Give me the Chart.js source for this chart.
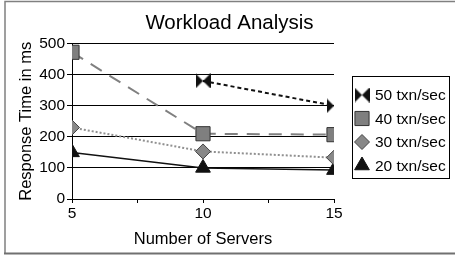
<!DOCTYPE html>
<html>
<head>
<meta charset="utf-8">
<script src="https://cdn.jsdelivr.net/npm/chart.js@4/dist/chart.umd.min.js"></script>
<style>
  html, body { margin: 0; padding: 0; background: #fff; }
  #wrap { width: 455px; height: 255px; }
</style>
</head>
<body>
<div id="wrap"><canvas id="chart"></canvas></div>
<script>
const servers = [5, 10, 15];
const txn50 = [null, 380, 300];
const txn40 = [472, 210, 207];
const txn30 = [230, 153, 133];
const txn20 = [150, 100, 93];
const seriesLabels = ['50 txn/sec', '40 txn/sec', '30 txn/sec', '20 txn/sec'];

const FONT = "'Liberation Sans', Arial, sans-serif";

// bowtie marker (two triangles pointing inward)
function makeBowtie(size, color) {
    const c = document.createElement('canvas');
    c.width = size;
    c.height = size;
    const g = c.getContext('2d');
    g.fillStyle = color;
    g.beginPath();
    g.moveTo(0, 0);
    g.lineTo(size / 2, size / 2);
    g.lineTo(0, size);
    g.closePath();
    g.moveTo(size, 0);
    g.lineTo(size / 2, size / 2);
    g.lineTo(size, size);
    g.closePath();
    g.fill();
    return c;
}
const bowtie = makeBowtie(15, '#111');

function toPoints(values) {
    return values.map((v, i) => ({ x: servers[i], y: v }));
}

const datasets = [
    {
        label: seriesLabels[0],
        data: toPoints(txn50),
        borderColor: '#111',
        borderWidth: 2,
        borderDash: [4, 3],
        pointStyle: bowtie,
        pointRadius: 8,
        pointBackgroundColor: '#111',
        pointBorderColor: '#111'
    },
    {
        label: seriesLabels[1],
        data: toPoints(txn40),
        borderColor: '#808080',
        borderWidth: 2,
        borderDash: [13, 9],
        pointStyle: 'rect',
        pointRadius: 10,
        pointBackgroundColor: '#7f7f7f',
        pointBorderColor: '#333',
        pointBorderWidth: 1
    },
    {
        label: seriesLabels[2],
        data: toPoints(txn30),
        borderColor: '#909090',
        borderWidth: 2,
        borderDash: [2, 2],
        pointStyle: 'rectRot',
        pointRadius: 7.5,
        pointBackgroundColor: '#888',
        pointBorderColor: '#444',
        pointBorderWidth: 1
    },
    {
        label: seriesLabels[3],
        data: toPoints(txn20),
        borderColor: '#111',
        borderWidth: 1.5,
        pointStyle: 'triangle',
        pointRadius: 8.5,
        pointBackgroundColor: '#111',
        pointBorderColor: '#111',
        pointBorderWidth: 1
    }
];

const framePlugin = {
    id: 'frameAndLegend',
    afterDraw(chart) {
        const ctx = chart.ctx;
        ctx.save();
        // outer frame
        ctx.strokeStyle = '#808080';
        ctx.lineWidth = 1.5;
        ctx.beginPath();
        ctx.moveTo(5, 253);
        ctx.lineTo(5, 1.5);
        ctx.lineTo(456, 1.5);
        ctx.stroke();
        ctx.strokeStyle = '#707070';
        ctx.lineWidth = 2;
        ctx.beginPath();
        ctx.moveTo(4, 253.5);
        ctx.lineTo(456, 253.5);
        ctx.stroke();

        // legend box
        ctx.strokeStyle = '#000';
        ctx.lineWidth = 1;
        ctx.strokeRect(352.5, 76.5, 97, 102);

        const rows = [95, 118.5, 142, 165.5];
        ctx.font = '15.5px ' + FONT;
        ctx.textBaseline = 'middle';
        ctx.textAlign = 'left';
        chart.data.datasets.forEach((ds, i) => {
            ctx.fillStyle = ds.pointBackgroundColor;
            ctx.strokeStyle = ds.pointBorderColor;
            ctx.lineWidth = ds.pointBorderWidth || 1;
            ctx.setLineDash([]);
            Chart.helpers.drawPoint(ctx, {
                pointStyle: ds.pointStyle,
                radius: ds.pointRadius,
                rotation: 0,
                borderWidth: ds.pointBorderWidth || 0
            }, 362, rows[i]);
            ctx.fillStyle = '#000';
            ctx.fillText(ds.label, 375, rows[i] + 1);
        });
        ctx.restore();
    }
};

new Chart(document.getElementById('chart'), {
    type: 'line',
    data: { datasets },
    options: {
        responsive: true,
        maintainAspectRatio: false,
        animation: false,
        layout: { padding: { top: 4, left: 4, right: 0, bottom: 5 } },
        plugins: {
            legend: { display: false },
            tooltip: { enabled: false },
            title: {
                display: true,
                text: 'Workload Analysis',
                color: '#000',
                font: { family: FONT, size: 20.5, weight: 'normal' },
                padding: { top: 7, bottom: 8 }
            }
        },
        scales: {
            x: {
                type: 'linear',
                min: 5,
                max: 15,
                afterFit(scale) { scale.height = 51; },
                ticks: {
                    stepSize: 2.5,
                    autoSkip: false,
                    maxRotation: 0,
                    padding: 1,
                    color: '#000',
                    font: { family: FONT, size: 15.5 },
                    callback: v => (v % 5 === 0 ? String(v) : '')
                },
                grid: {
                    drawOnChartArea: false,
                    drawTicks: true,
                    tickLength: 4,
                    color: '#000'
                },
                border: { color: '#000', width: 1 },
                title: {
                    display: true,
                    text: 'Number of Servers',
                    color: '#000',
                    font: { family: FONT, size: 16.5 },
                    padding: { top: 0, bottom: 1 }
                }
            },
            y: {
                min: 0,
                max: 500,
                afterFit(scale) { scale.width = 68; },
                ticks: {
                    stepSize: 100,
                    padding: 2,
                    color: '#000',
                    font: { family: FONT, size: 15.5 }
                },
                grid: {
                    color: '#000',
                    lineWidth: 1,
                    drawTicks: true,
                    tickLength: 5
                },
                border: { color: '#000', width: 1 },
                title: {
                    display: true,
                    text: 'Response Time in ms',
                    color: '#000',
                    font: { family: FONT, size: 16.5 },
                    padding: { top: 13, bottom: 0 }
                }
            },
            // empty side axis that reserves room for the legend box
            side: {
                position: 'right',
                display: true,
                afterFit(scale) { scale.width = 121; },
                ticks: { display: false },
                grid: { display: false, drawTicks: false },
                border: { display: false }
            }
        }
    },
    plugins: [framePlugin]
});
</script>
</body>
</html>
